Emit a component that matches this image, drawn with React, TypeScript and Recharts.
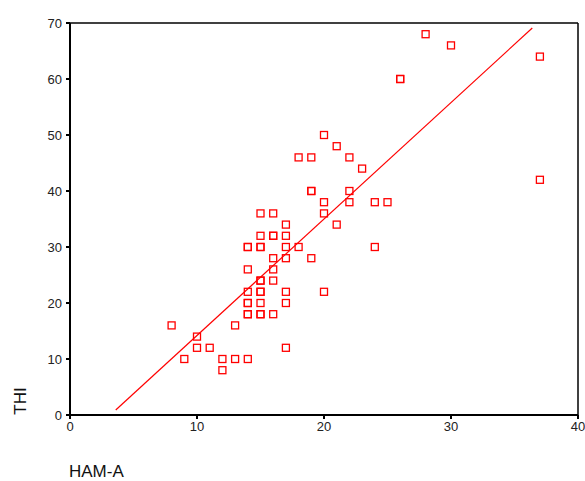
import { ScatterChart, Scatter, XAxis, YAxis, ReferenceLine } from 'recharts'

const hamA = [
  8, 9, 10, 10, 11, 12, 12, 13, 13, 14,
  14, 14, 14, 14, 14, 14, 14, 14,
  15, 15, 15, 15, 15, 15, 15, 15, 15, 15, 15,
  16, 16, 16, 16, 16, 16, 16,
  17, 17, 17, 17, 17, 17, 17,
  18, 18,
  19, 19, 19, 19,
  20, 20, 20, 20,
  21, 21,
  22, 22, 22,
  23, 24, 24, 25, 26, 26, 28, 30, 37, 37,
]
const thi = [
  16, 10, 14, 12, 12, 10, 8, 16, 10, 10,
  30, 30, 26, 22, 20, 20, 18, 18,
  36, 32, 30, 30, 24, 24, 22, 22, 20, 18, 18,
  36, 32, 32, 28, 26, 24, 18,
  34, 32, 30, 28, 22, 20, 12,
  46, 30,
  46, 40, 40, 28,
  50, 38, 36, 22,
  48, 34,
  46, 40, 38,
  44, 38, 30, 38, 60, 60, 68, 66, 64, 42,
]
const fitX = [3.6, 36.4]
const fitY = [0.9, 69.1]
const xTicks = [0, 10, 20, 30, 40]
const yTicks = [0, 10, 20, 30, 40, 50, 60, 70]

const points = hamA.map((x, i) => ({ x, y: thi[i] }))
const fitLine = fitX.map((x, i) => ({ x, y: fitY[i] }))

const RED = '#ff0000'
const FONT = '"Liberation Sans", Arial, sans-serif'

const Square = (props: any) => {
  const { cx, cy } = props
  return <rect x={cx - 3.5} y={cy - 3.5} width={7} height={7} fill="none" stroke={RED} strokeWidth={1.3} />
}

const tickStyle = { fontSize: 13, fill: '#222', fontFamily: FONT }

export default function App() {
  return (
    <div style={{ position: 'absolute', left: 0, top: 0, width: 585, height: 481, background: '#fff' }}>
      <ScatterChart width={585} height={481} margin={{ top: 23, right: 7, left: 0, bottom: 36 }}>
        <XAxis
          type="number"
          dataKey="x"
          domain={[0, 40]}
          ticks={xTicks}
          height={30}
          tickSize={4}
          tickMargin={3}
          tick={tickStyle}
          axisLine={{ stroke: '#000', strokeWidth: 2 }}
          tickLine={{ stroke: '#000', strokeWidth: 2 }}
          allowDataOverflow
        />
        <YAxis
          type="number"
          dataKey="y"
          domain={[0, 70]}
          ticks={yTicks}
          width={70}
          tickSize={4}
          tickMargin={4}
          tick={tickStyle}
          axisLine={{ stroke: '#000', strokeWidth: 2 }}
          tickLine={{ stroke: '#000', strokeWidth: 2 }}
          allowDataOverflow
        />
        <ReferenceLine y={70} stroke="#000" strokeWidth={1.5} />
        <ReferenceLine x={40} stroke="#000" strokeWidth={1.5} />
        <Scatter
          data={fitLine}
          line={{ stroke: RED, strokeWidth: 1.2 }}
          shape={() => <g />}
          isAnimationActive={false}
        />
        <Scatter data={points} shape={Square} isAnimationActive={false} />
      </ScatterChart>
      <div
        style={{
          position: 'absolute',
          left: 21,
          top: 401,
          transform: 'translate(-50%, -50%) rotate(-90deg)',
          fontFamily: FONT,
          fontSize: 17,
          color: '#111',
          whiteSpace: 'nowrap',
        }}
      >
        THI
      </div>
      <div
        style={{
          position: 'absolute',
          left: 69,
          top: 462,
          fontFamily: FONT,
          fontSize: 17,
          color: '#111',
          whiteSpace: 'nowrap',
        }}
      >
        HAM-A
      </div>
    </div>
  )
}
